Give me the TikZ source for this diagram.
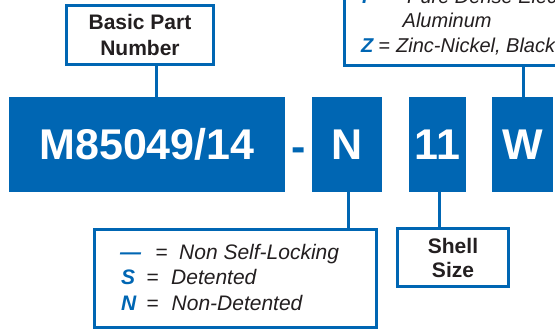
\documentclass[tikz,border=0pt]{standalone}
\usepackage{fontspec}
\setmainfont{Liberation Sans}
\definecolor{gblue}{RGB}{0,102,179}
\definecolor{ink}{RGB}{35,31,32}
\begin{document}
\begin{tikzpicture}[x=1pt,y=-1pt,
  codebox/.style={fill=gblue, draw=none, text=white, inner sep=0pt,
    font=\fontsize{43}{43}\selectfont\bfseries, text height=31pt, text depth=0pt},
  labelbox/.style={draw=gblue, line width=3pt, fill=white, align=center, text=ink,
    inner sep=0pt, font=\fontsize{21}{26}\selectfont\bfseries},
  framebox/.style={draw=gblue, line width=3pt, fill=white, inner sep=0pt},
  conn/.style={draw=gblue, line width=3pt},
  desc/.style={anchor=base west, inner sep=0pt, text=ink, font=\fontsize{21}{21}\selectfont\itshape},
  eqs/.style={anchor=base west, inner sep=0pt, text=ink, font=\fontsize{21}{21}\selectfont},
  key/.style={anchor=base west, inner sep=0pt, text=gblue, font=\fontsize{21}{21}\selectfont\bfseries\itshape},
  tdesc/.style={anchor=base west, inner sep=0pt, text=ink, font=\fontsize{20}{20}\selectfont\itshape},
  teqs/.style={anchor=base west, inner sep=0pt, text=ink, font=\fontsize{20}{20}\selectfont},
  tkey/.style={anchor=base west, inner sep=0pt, text=gblue, font=\fontsize{20}{20}\selectfont\bfseries\itshape}]
\useasboundingbox (0,0) rectangle (555,331);
\clip (0,0) rectangle (555,331);

% code boxes
\node[codebox, minimum width=276pt, minimum height=95pt] (mcode) at (147,144.5) {M85049/14};
\node[anchor=base, inner sep=0pt, text=gblue, font=\fontsize{43}{43}\selectfont\bfseries] (hyph) at (299,162) {-};
\node[codebox, minimum width=70pt, minimum height=95pt] (ncode) at (347,144.5) {N};
\node[codebox, minimum width=57pt, minimum height=95pt] (sizecode) at (437.5,144.5) {11};
\node[codebox, minimum width=61pt, minimum height=95pt] (wcode) at (522.5,144.5) {W};

% label boxes
\node[labelbox, minimum width=147pt, minimum height=59pt] (basic) at (140,35) {Basic Part\\Number};
\node[labelbox, font=\fontsize{21}{24}\selectfont\bfseries, minimum width=111pt, minimum height=58pt] (shell) at (453,257.5) {Shell\\Size};
\node[framebox, minimum width=282pt, minimum height=98pt] (locking) at (235.5,278.5) {};
\node[framebox, minimum width=355.5pt, minimum height=165.5pt] (finish) at (522.25,-17.25) {};

% connectors
\draw[conn] ([xshift=9pt]mcode.north) -- ([xshift=9pt]mcode.north |- basic.south);
\draw[conn] ([xshift=0.5pt]wcode.north) -- ([xshift=0.5pt]wcode.north |- finish.south);
\draw[conn] ([xshift=1pt]ncode.south) -- ([xshift=1pt]ncode.south |- locking.north);
\draw[conn] ([xshift=1.5pt]sizecode.south) -- ([xshift=1.5pt]sizecode.south |- shell.north);

% locking legend
\node[key] (k1) at (120,260) {—};
\node[eqs] (e1) at (155.5,260) {=};
\node[desc] (d1) at (179,260) {Non Self-Locking};
\node[key] (k2) at (121,285) {S};
\node[eqs] (e2) at (146.5,285) {=};
\node[desc] (d2) at (171,285) {Detented};
\node[key] (k3) at (121,311) {N};
\node[eqs] (e3) at (146.5,311) {=};
\node[desc] (d3) at (171.5,311) {Non-Detented};

% finish legend
\node[tkey] (fk1) at (362,3.5) {P};
\node[teqs] (fe1) at (386,3.5) {=};
\node[tdesc] (fd1) at (407,3.5) {Pure Dense Electrodeposited};
\node[tdesc] (fd1b) at (402.5,28) {Aluminum};
\node[tkey] (fk2) at (361,53) {Z};
\node[teqs] (fe2) at (378.5,53) {=};
\node[tdesc] (fd2) at (396,53) {Zinc-Nickel, Black};
\end{tikzpicture}
\end{document}
